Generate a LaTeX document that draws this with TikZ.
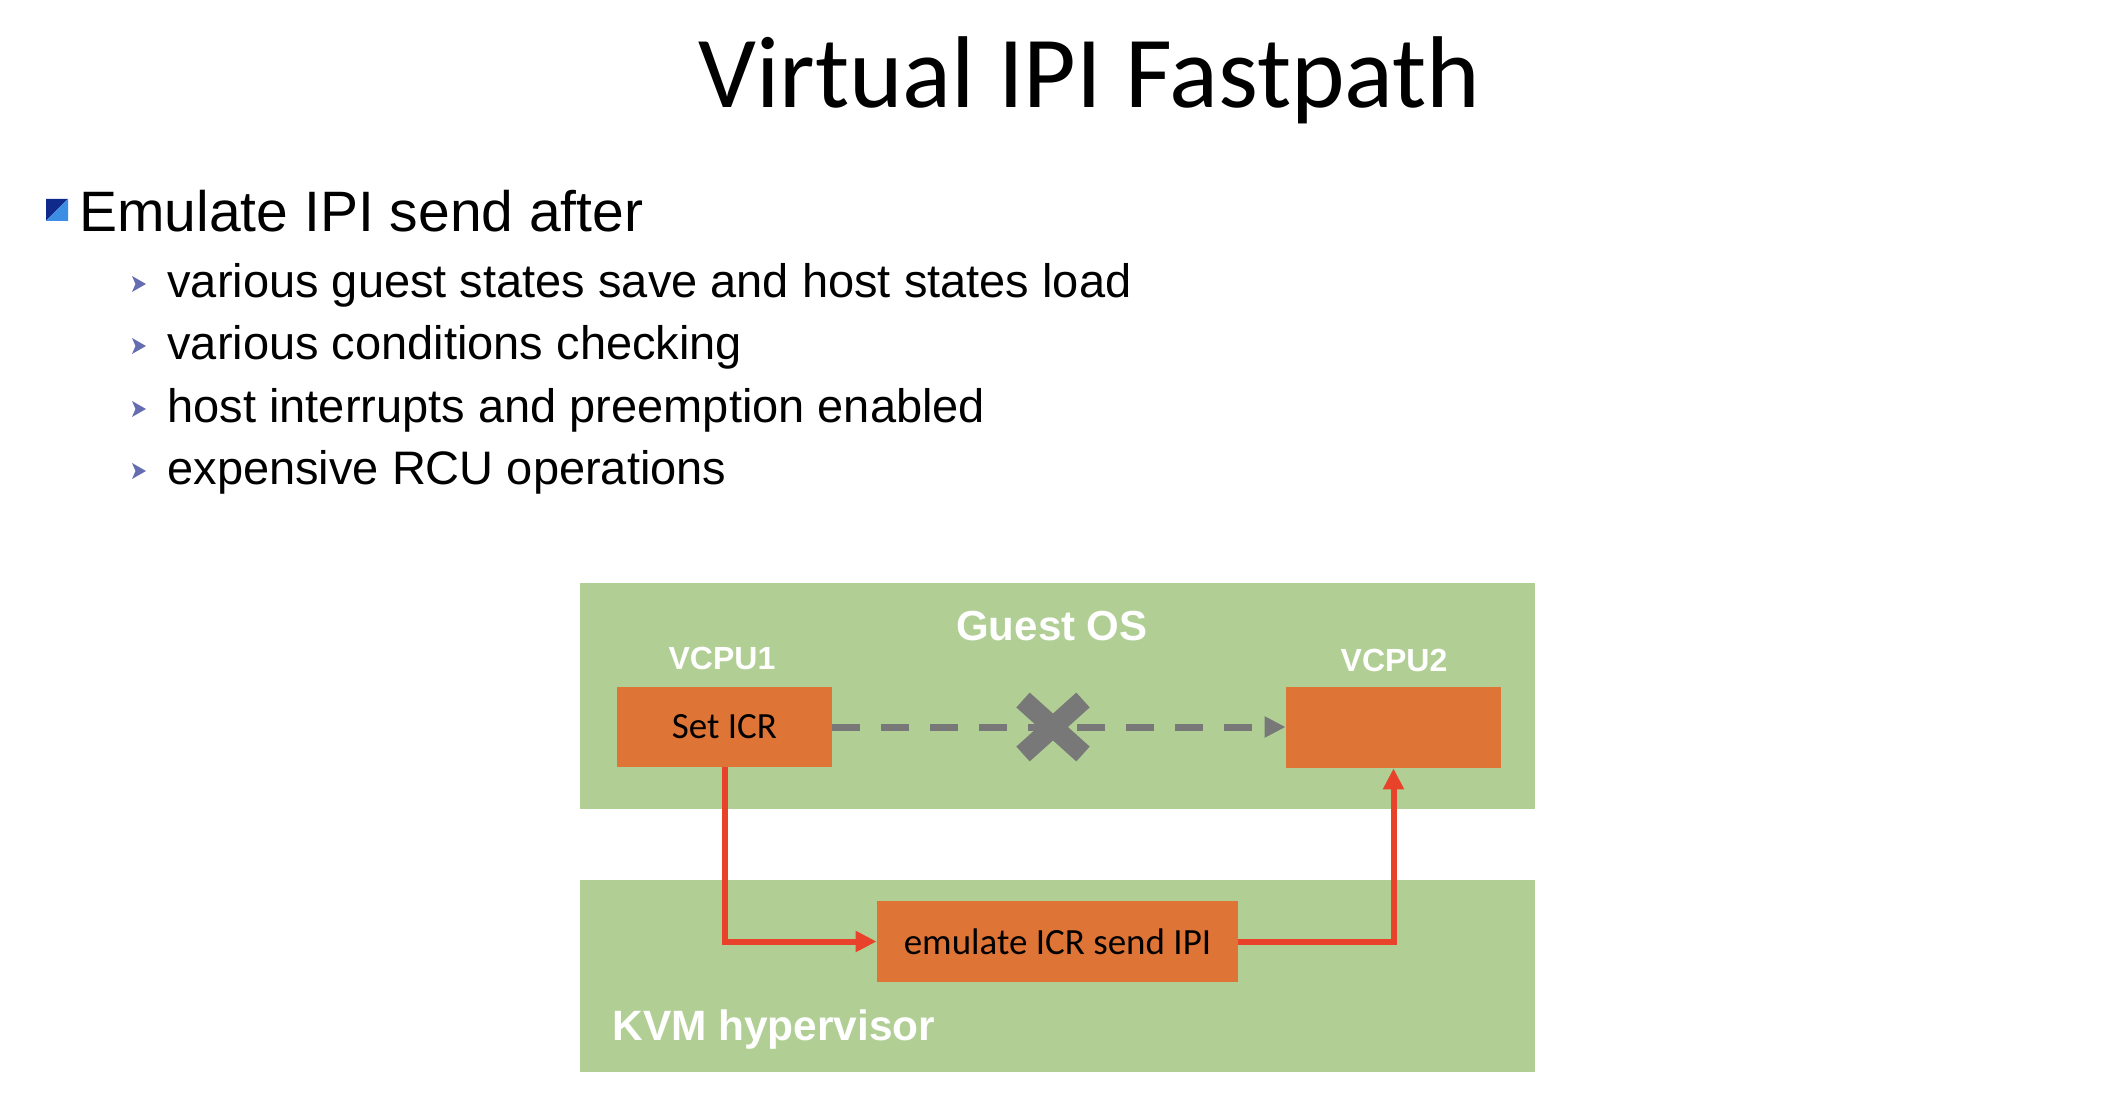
\documentclass[tikz,border=0pt]{standalone}
\usepackage{fontspec}
\setmainfont{Liberation Sans}
\newfontfamily\calibrifont{Carlito}
\usetikzlibrary{arrows.meta,calc}

\definecolor{panelgreen}{RGB}{177,207,149}
\definecolor{boxorange}{RGB}{222,116,54}
\definecolor{linkgray}{RGB}{120,120,120}
\definecolor{flowred}{RGB}{233,66,42}
\definecolor{bulletnavy}{RGB}{16,42,140}
\definecolor{bulletblue}{RGB}{60,142,228}
\definecolor{bulletslate}{RGB}{100,108,178}

\begin{document}
\begin{tikzpicture}[x=0.5pt,y=-0.5pt,
  panel/.style={fill=panelgreen, draw=none, inner sep=0pt},
  cpubox/.style={fill=boxorange, draw=none, inner sep=0pt, text=black,
    font=\calibrifont\fontsize{18.5pt}{22pt}\selectfont},
  panellabel/.style={text=white, inner sep=0pt,
    font=\bfseries\fontsize{21pt}{25pt}\selectfont},
  cpulabel/.style={text=white, inner sep=0pt, anchor=base,
    font=\bfseries\fontsize{16pt}{19pt}\selectfont},
  ipiline/.style={draw=linkgray, line width=3.5pt, dash pattern=on 14pt off 10.5pt,
    -{Triangle[length=10.5pt,width=10pt]}},
  blockmark/.style={draw=linkgray, line width=10pt},
  redflow/.style={draw=flowred, line width=3pt,
    -{Triangle[length=10.5pt,width=10pt]}},
  headline/.style={anchor=base, inner sep=0pt,
    font=\calibrifont\fontsize{51pt}{60pt}\selectfont},
  mainpoint/.style={anchor=base west, inner sep=0pt,
    font=\fontsize{28.5pt}{34pt}\selectfont},
  subpoint/.style={anchor=base west, inner sep=0pt,
    font=\fontsize{23.5pt}{28pt}\selectfont}
]
\useasboundingbox[fill=white] (0,0) rectangle (2126,1112);

% heading
\node[headline] (title) at (1089.5,108) {Virtual IPI Fastpath};

% first-level bullet: two-tone square
\fill[bulletnavy] (46,199) -- (68,199) -- (46,221) -- cycle;
\fill[bulletblue] (68,199) -- (68,221) -- (46,221) -- cycle;
\node[mainpoint] (point) at (79,232) {Emulate IPI send after};

% second-level bullets
\foreach \yb in {298,360,423,485}
  \fill[bulletslate] (132,\yb-22) -- (146,\yb-14) -- (132,\yb-6) -- (135.5,\yb-14) -- cycle;
\node[subpoint] (sub1) at (167,298) {various guest states save and host states load};
\node[subpoint] (sub2) at (167,360) {various conditions checking};
\node[subpoint] (sub3) at (167,423) {host interrupts and preemption enabled};
\node[subpoint] (sub4) at (167,485) {expensive RCU operations};

% layers
\node[panel, minimum width=477.5pt, minimum height=113pt] (guest) at (1057.5,696) {};
\node[panel, minimum width=477.5pt, minimum height=96pt] (kvm) at (1057.5,976) {};

\node[panellabel, anchor=base] (guestlabel) at (1052,640) {Guest OS};
\node[panellabel, anchor=base west, font=\bfseries\fontsize{21.2pt}{25pt}\selectfont] (kvmlabel) at (612,1040) {KVM hypervisor};
\node[cpulabel] (vcpu1label) at (722,669) {VCPU1};
\node[cpulabel] (vcpu2label) at (1394,671) {VCPU2};

% boxes
\node[cpubox, minimum width=107.5pt, minimum height=40pt] (seticr) at (724.5,727) {Set ICR};
\node[cpubox, minimum width=107.5pt, minimum height=40.5pt] (vcpu2) at (1393.5,727.5) {};
\node[cpubox, minimum width=180.5pt, minimum height=40.5pt] (emul) at (1057.5,941.5) {emulate ICR send IPI};

% blocked direct path
\coordinate (xmark) at (1053,727);
\draw[blockmark] ($(xmark)+(-30,-27)$) -- ($(xmark)+(30,27)$);
\draw[blockmark] ($(xmark)+(-30,27)$) -- ($(xmark)+(30,-27)$);
\draw[ipiline] (seticr.east) -- (seticr.east -| vcpu2.west);

% path through the hypervisor
\draw[redflow] (seticr.south) |- (emul.west);
\draw[redflow] (emul.east) -| (vcpu2.south);
\end{tikzpicture}
\end{document}
